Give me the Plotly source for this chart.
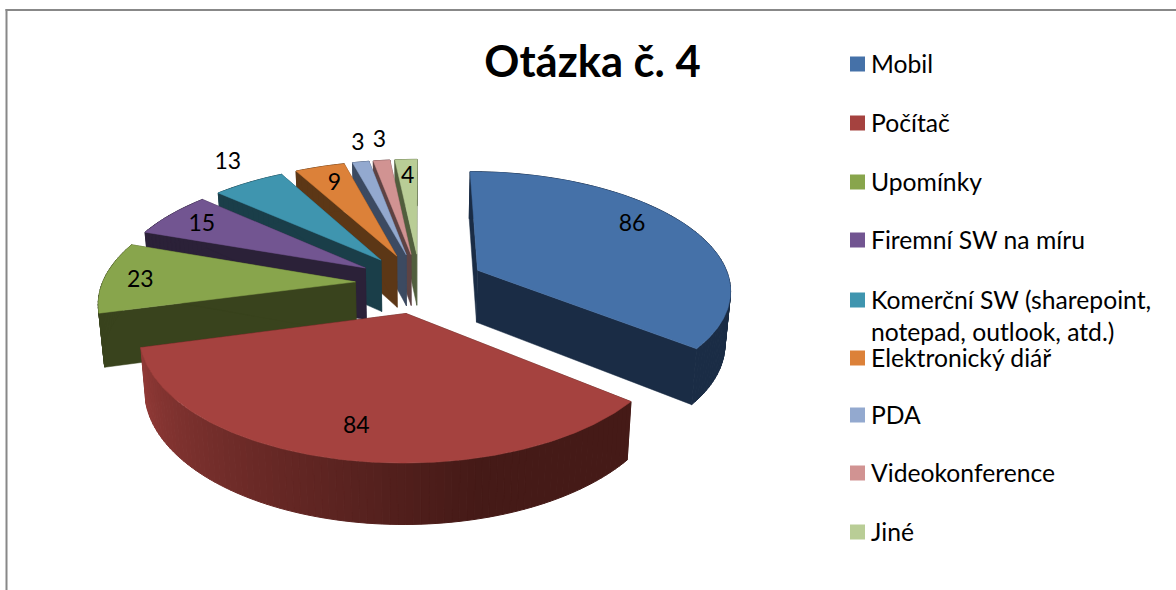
import math
import plotly.graph_objects as go

categories = ["Mobil", "Počítač", "Upomínky", "Firemní SW na míru",
              "Komerční SW (sharepoint,<br>notepad, outlook, atd.)",
              "Elektronický diář", "PDA", "Videokonference", "Jiné"]
values = [86, 84, 23, 15, 13, 9, 3, 3, 4]
top_colors = ["#4571A8", "#A5423F", "#88A54C", "#725591", "#3F95AF", "#DC8139", "#93A9CF", "#D19392", "#B9CD96"]
wall_colors = ["#1A2C45", "#451A17", "#39431D", "#2B2138", "#1A3E49", "#5C3716", "#3C4A61", "#5E4343", "#515E3D"]
label_radius = [0.81, 0.793, 0.856, 0.831, 1.273, 0.808, 1.245, 1.267, 0.816]
label_turn_deg = [-7.8, -0.4, -0.65, 0.0, 2.6, 0.4, 1.5, 1.0, 0.0]
swatch_rows = [64, 123, 182, 240, 300, 358, 415, 473, 532]
text_rows = [66.5, 125.5, 184.5, 242.5, 318.5, 360.5, 417.5, 475.5, 534.5]

CX, CY, RX, RY, PERSP, EXPLODE, WALL, SHRINK = 420, 283, 253, 117, 0.15, 0.256, 53.5, 0.982
LABEL_DROP = 2.5
FONT = "Lato"


def project(u, v, low=False):
    s = 1 / (1 - PERSP * v)
    if low:
        s *= SHRINK
        return CX + RX * u * s, CY + (RY * v + WALL) * s
    return CX + RX * u * s, CY + RY * v * s


def mix(hex_a, hex_b, t):
    a = [int(hex_a[i:i + 2], 16) for i in (1, 3, 5)]
    b = [int(hex_b[i:i + 2], 16) for i in (1, 3, 5)]
    return "rgb(%d,%d,%d)" % tuple(round(p + (q - p) * t) for p, q in zip(a, b))


fig = go.Figure()
total = sum(values)
slices = []
start = 0.0
for i, val in enumerate(values):
    sweep = val / total * 2 * math.pi
    slices.append((i, start, start + sweep))
    start += sweep


def point(a, off_u, off_v, r=1.0):
    return off_u + r * math.sin(a), off_v - r * math.cos(a)


def poly(pts, color, width=1):
    xs = [p[0] for p in pts] + [pts[0][0]]
    ys = [p[1] for p in pts] + [pts[0][1]]
    fig.add_trace(go.Scatter(x=xs, y=ys, mode="lines", fill="toself", fillcolor=color,
                             line=dict(color=color, width=width), showlegend=False, hoverinfo="skip"))


def draw_slice(i, a0, a1):
    mid = (a0 + a1) / 2
    ou, ov = EXPLODE * math.sin(mid), -EXPLODE * math.cos(mid)
    n = max(6, int((a1 - a0) * 40))
    wall = wall_colors[i]
    for a in (a0, a1):
        pu, pv = point(a, ou, ov)
        poly([project(ou, ov), project(pu, pv), project(pu, pv, True), project(ou, ov, True)], wall, 0.5)
    for k in range(n):
        b0 = a0 + (a1 - a0) * k / n
        b1 = a0 + (a1 - a0) * (k + 1) / n
        color = wall
        if i == 1:
            t = max(0.0, ((k + 0.5) / n - 0.3) / 0.7)
            color = mix(wall_colors[1], "#923A37", t)
        p0 = point(b0, ou, ov)
        p1 = point(b1, ou, ov)
        poly([project(*p0), project(*p1), project(*p1, True), project(*p0, True)], color)
    pts = [project(ou, ov)]
    for k in range(n * 2 + 1):
        pts.append(project(*point(a0 + (a1 - a0) * k / (n * 2), ou, ov)))
    poly(pts, top_colors[i], 0.5)


for i, a0, a1 in sorted(slices, key=lambda s: -math.cos((s[1] + s[2]) / 2)):
    draw_slice(i, a0, a1)

# value labels
lx, ly = [], []
for (i, a0, a1), r, turn in zip(slices, label_radius, label_turn_deg):
    mid = (a0 + a1) / 2
    ou, ov = EXPLODE * math.sin(mid), -EXPLODE * math.cos(mid)
    x, y = project(*point(mid + math.radians(turn), ou, ov, r))
    lx.append(x)
    ly.append(y + LABEL_DROP)
fig.add_trace(go.Scatter(x=lx, y=ly, mode="text", text=[str(v) for v in values], showlegend=False,
                         textfont=dict(family=FONT, size=23, color="#000000"), hoverinfo="skip"))

# key, with the uneven row spacing of the original
fig.add_trace(go.Scatter(x=[857.5] * len(categories), y=swatch_rows, mode="markers", showlegend=False,
                         marker=dict(symbol="square", size=15, color=top_colors, line=dict(width=0)),
                         hovertext=categories, hoverinfo="text"))
fig.add_trace(go.Scatter(x=[871] * len(categories), y=text_rows, mode="text", text=categories,
                         textposition="middle right", showlegend=False, hoverinfo="skip",
                         textfont=dict(family=FONT, size=24.7, color="#000000")))

fig.update_layout(
    width=1176, height=590, margin=dict(l=0, r=0, t=0, b=0),
    paper_bgcolor="#FFFFFF", plot_bgcolor="#FFFFFF",
    xaxis=dict(range=[0, 1176], visible=False, fixedrange=True),
    yaxis=dict(range=[590, 0], visible=False, fixedrange=True),
    title=dict(text="Otázka č. 4", x=592.5 / 1176, xanchor="center", y=1 - 62 / 590, yanchor="middle",
               font=dict(family=FONT, size=43.5, color="#000000", weight="bold")),
    shapes=[dict(type="line", xref="paper", yref="paper", x0=6.5 / 1176, x1=6.5 / 1176, y0=0, y1=1 - 9 / 590,
                 line=dict(color="#888888", width=2)),
            dict(type="line", xref="paper", yref="paper", x0=5.5 / 1176, x1=1, y0=1 - 10 / 590, y1=1 - 10 / 590,
                 line=dict(color="#888888", width=2))],
)
fig.write_html("out.html", config=dict(displayModeBar=False),
               post_script="document.body.style.margin='0';")
